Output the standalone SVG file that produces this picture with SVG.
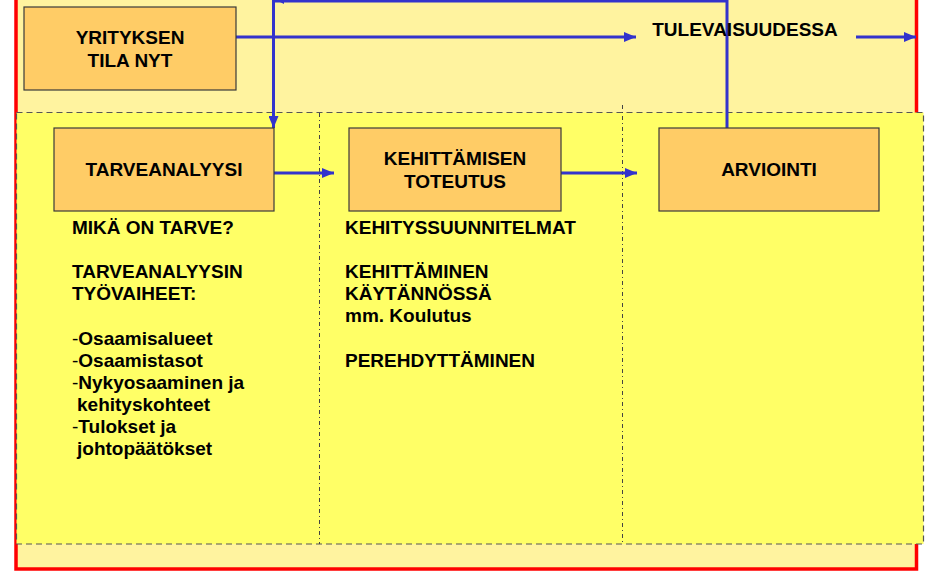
<svg xmlns="http://www.w3.org/2000/svg" width="926" height="571" viewBox="0 0 926 571">
<style>
.t{font-family:"Liberation Sans",Arial,sans-serif;font-weight:bold;font-size:19px;fill:#000}
.c{text-anchor:middle}
.n{font-weight:normal}
.box{fill:#FFCC66;stroke:#3a3a3a;stroke-width:1.2}
.con{fill:none;stroke:#3333CC;stroke-width:3}
.dd{fill:none;stroke:#444;stroke-width:1;stroke-dasharray:4,3,1,3}
</style>
<defs>
<marker id="ah" markerWidth="12" markerHeight="10" refX="12" refY="5" orient="auto" markerUnits="userSpaceOnUse">
<path d="M0,0 L12,5 L0,10 Z" fill="#3333CC"/>
</marker>
</defs>
<g id="background">
<rect x="16" y="-10" width="900.5" height="579" fill="#FFF39F" stroke="#FF0000" stroke-width="3.5"/>
<rect x="16.5" y="112.5" width="907" height="431.5" fill="#FFFF66" stroke="#555" stroke-width="1.2" stroke-dasharray="6,4"/>
<line class="dd" x1="319.5" y1="113" x2="319.5" y2="544"/>
<line class="dd" x1="622.5" y1="105" x2="622.5" y2="544"/>
</g>
<g id="connectors">
<line class="con" x1="236" y1="37" x2="636" y2="37" marker-end="url(#ah)"/>
<line class="con" x1="856" y1="37" x2="916" y2="37" marker-end="url(#ah)"/>
<path class="con" d="M727,128 V1 H273.5 V128" marker-end="url(#ah)"/>
<polygon points="276,0 284,0 284,4" fill="#3333CC"/>
<line class="con" x1="274" y1="173" x2="334" y2="173" marker-end="url(#ah)"/>
<line class="con" x1="561" y1="173" x2="637" y2="173" marker-end="url(#ah)"/>
</g>
<g id="yrityksen">
<rect class="box" x="24" y="7" width="212" height="83"/>
<text class="t c" x="130" y="44">YRITYKSEN</text>
<text class="t c" x="130" y="67">TILA NYT</text>
</g>
<g id="tulevaisuudessa">
<text class="t c" x="745" y="36">TULEVAISUUDESSA</text>
</g>
<g id="tarveanalyysi">
<rect class="box" x="54" y="128" width="220" height="83"/>
<text class="t c" x="164" y="176">TARVEANALYYSI</text>
</g>
<g id="kehittamisen">
<rect class="box" x="349" y="128" width="212" height="83"/>
<text class="t c" x="455" y="165">KEHITTÄMISEN</text>
<text class="t c" x="455" y="188">TOTEUTUS</text>
</g>
<g id="arviointi">
<rect class="box" x="659" y="128" width="220" height="83"/>
<text class="t c" x="769" y="176">ARVIOINTI</text>
</g>
<g id="left-text">
<text class="t" x="72" y="234">MIKÄ ON TARVE?</text>
<text class="t" x="72" y="278">TARVEANALYYSIN</text>
<text class="t" x="72" y="300">TYÖVAIHEET:</text>
<text class="t" x="72" y="345"><tspan class="n">-</tspan>Osaamisalueet</text>
<text class="t" x="72" y="367"><tspan class="n">-</tspan>Osaamistasot</text>
<text class="t" x="72" y="389"><tspan class="n">-</tspan>Nykyosaaminen ja</text>
<text class="t" x="77" y="411">kehityskohteet</text>
<text class="t" x="72" y="433"><tspan class="n">-</tspan>Tulokset ja</text>
<text class="t" x="77" y="455">johtopäätökset</text>
</g>
<g id="middle-text">
<text class="t" x="345" y="234">KEHITYSSUUNNITELMAT</text>
<text class="t" x="345" y="278">KEHITTÄMINEN</text>
<text class="t" x="345" y="300">KÄYTÄNNÖSSÄ</text>
<text class="t" x="345" y="322">mm. Koulutus</text>
<text class="t" x="345" y="367">PEREHDYTTÄMINEN</text>
</g>
</svg>
